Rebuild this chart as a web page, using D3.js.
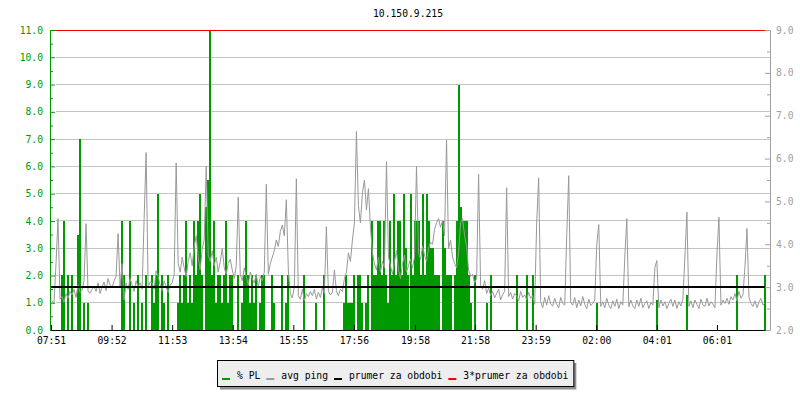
<!DOCTYPE html>
<html>
<head>
<meta charset="utf-8">
<script src="https://cdn.jsdelivr.net/npm/d3@7"></script>
<style>
  body { margin: 0; background: #fff; }
  text { font-family: "DejaVu Sans Mono", monospace; font-size: 9.7px; }
</style>
</head>
<body>
<svg id="chart" width="800" height="400"></svg>
<script>
const chartTitle = '10.150.9.215';
const timeLabels = ['07:51', '09:52', '11:53', '13:54', '15:55', '17:56', '19:58', '21:58', '23:59', '02:00', '04:01', '06:01'];
const spanMinutes = 1426;   // 07:51 -> ~07:37 next day
const stepMinutes = 4;
const plTicks = [0, 1, 2, 3, 4, 5, 6, 7, 8, 9, 10, 11];
const pingTicks = [2, 3, 4, 5, 6, 7, 8, 9];

// avg ping (ms), one value per 4 min slot
const avgPing = [
  2.68, 2.62, 3.55, 4.6, 2.72, 2.78, 2.65, 2.85, 2.74, 2.9,
  2.82, 2.95, 2.76, 3.05, 2.88, 2.92, 3.15, 4.48, 2.9, 2.86,
  2.95, 3.02, 2.9, 3.1, 2.85, 3.0, 3.12, 2.92, 3.2, 3.05,
  2.98, 3.15, 3.25, 4.25, 3.0, 3.55, 2.7, 3.1, 2.95, 3.2,
  3.05, 2.9, 3.15, 3.0, 3.1, 2.95, 4.6, 6.14, 3.0, 3.12,
  3.1, 2.95, 3.38, 3.25, 3.05, 2.92, 3.15, 3.0, 2.88, 3.05,
  3.1, 3.3, 5.9, 3.55, 3.35, 3.7, 3.45, 3.25, 3.6, 3.8,
  3.5, 3.95, 4.2, 3.7, 3.4, 3.9, 4.1, 5.82, 3.75, 3.6,
  3.85, 3.5, 3.7, 3.35, 3.6, 3.9, 3.45, 3.3, 3.55, 3.65,
  3.4, 3.2, 3.5, 5.1, 3.3, 3.15, 3.45, 3.25, 3.05, 3.35,
  3.2, 3.1, 3.3, 3.0, 3.25, 3.15, 3.35, 5.4, 3.3, 3.55,
  3.7, 3.85, 4.1, 3.95, 4.3, 4.45, 4.2, 5.04, 3.4, 2.85,
  2.75, 3.0, 5.53, 2.8, 2.72, 2.95, 2.68, 2.85, 2.78, 2.9,
  2.8, 2.95, 2.72, 2.88, 2.76, 2.98, 2.85, 4.41, 2.9, 2.82,
  2.88, 3.4, 2.92, 2.8, 2.95, 2.9, 3.2, 3.35, 3.8, 3.6,
  4.1, 4.5, 6.63, 4.9, 4.5, 5.2, 5.5, 4.8, 5.3, 4.4,
  3.8, 3.55, 3.4, 3.7, 3.35, 3.6, 3.45, 5.93, 3.7, 3.5,
  3.3, 3.6, 3.85, 3.4, 3.2, 3.55, 3.75, 3.35, 3.5, 3.65,
  3.45, 3.7, 5.82, 3.8, 3.65, 3.95, 3.75, 3.6, 3.9, 4.05,
  4.0, 4.35, 4.5, 4.6, 4.4, 4.55, 4.2, 6.43, 3.9, 4.1,
  3.7, 3.55, 3.45, 3.8, 4.5, 4.6, 4.2, 3.95, 3.4, 3.25,
  3.3, 3.1, 3.2, 5.63, 3.05, 2.95, 3.15, 2.85, 2.98, 2.8,
  2.9, 2.75, 2.85, 2.95, 2.7, 2.82, 2.9, 5.32, 2.78, 2.88,
  2.72, 2.85, 2.8, 2.68, 2.9, 2.76, 2.82, 2.7, 2.88, 2.74,
  2.8, 2.6, 4.5, 5.55, 2.66, 2.52, 2.76, 2.58, 2.8, 2.6,
  2.56, 2.74, 2.6, 2.52, 2.76, 2.62, 2.58, 4.2, 5.6, 2.64,
  2.58, 2.76, 2.52, 2.7, 2.56, 2.78, 2.6, 2.5, 2.72, 2.57,
  2.62, 2.7, 4.0, 4.46, 2.55, 2.66, 2.52, 2.74, 2.58, 2.5,
  2.68, 2.55, 2.72, 2.5, 2.66, 2.58, 3.7, 4.6, 2.54, 2.7,
  2.56, 2.5, 2.7, 2.55, 2.74, 2.52, 2.62, 2.68, 2.5, 2.64,
  2.58, 3.45, 3.62, 2.52, 2.7, 2.56, 2.66, 2.5, 2.62, 2.72,
  2.55, 2.7, 2.5, 2.66, 2.56, 2.72, 3.7, 4.75, 2.55, 2.68,
  2.52, 2.7, 2.6, 2.5, 2.72, 2.58, 2.55, 2.74, 2.56, 2.66,
  2.6, 2.52, 3.75, 4.63, 2.58, 2.7, 2.62, 2.74, 2.6, 2.78,
  2.7, 2.85, 2.68, 2.9, 2.74, 2.82, 3.48, 4.37, 2.76, 2.62,
  2.55, 2.68, 2.52, 2.66, 2.74, 2.58, 2.64
];

// packet loss (%), slot index + value, only non-zero slots
const lossSlot = [
  5, 6, 8, 10, 13, 14, 16, 18,
  35, 36, 39, 41, 43, 45, 47, 50, 51, 52, 53, 55, 56, 58,
  63, 64, 65, 66, 67, 68, 69, 70, 71, 72, 73, 74, 75, 77, 78, 79, 80, 81, 82, 83, 84, 85, 86, 87, 88, 89,
  90, 93, 95, 96, 97, 98, 99, 100, 101, 102, 104, 105, 106,
  110, 111, 115, 117, 118, 126, 132, 136,
  146, 147, 148, 149, 150, 151, 153, 154, 155, 157, 158, 160, 161, 162, 163, 164, 165, 166, 167, 168, 169,
  170, 171, 172, 173, 174, 175, 176, 177, 178, 179, 180, 181, 182, 183, 184, 185, 186, 187, 188, 189,
  190, 191, 192, 193, 195, 196, 197, 198, 199, 201, 202, 203, 204, 205, 206, 207, 208, 209, 211,
  217, 219, 232, 237, 240, 272, 302, 317, 342, 356
];
const lossPct = [
  2, 4, 2, 2, 3.5, 7, 1, 1,
  4, 2, 4, 1, 2, 1, 2, 2, 1, 2, 5, 2, 1, 2,
  1, 2, 1, 2, 4, 1, 2, 1, 4, 2, 4, 5, 2, 4.5, 5.5, 11, 2, 4, 1, 2, 2, 1, 2, 4, 1, 2,
  2, 2, 1, 2, 4, 2, 1, 2, 1, 2, 1, 2, 2,
  2, 1, 2, 1, 2, 2, 1, 2,
  1, 2, 1, 1, 1, 2, 2, 2, 1, 1, 2, 4, 2, 2, 4, 4, 2, 4, 2, 1, 4,
  2, 5, 2, 4, 4, 2, 5, 3, 2, 5, 2, 4, 4, 4, 2, 5, 2, 5, 4, 3,
  3, 2, 2, 2, 4, 3, 2, 2, 2, 2, 4, 9, 4.5, 4, 4, 4, 2, 1, 2,
  1, 2, 2, 2, 2, 1, 1.1, 1.3, 2, 2
];

const periodAvg = 3.0;   // prumer za obdobi (ms)

const legendLabels = ['% PL', 'avg ping', 'prumer za obdobi', '3*prumer za obdobi'];
const legendColors = ['#009900', '#999999', '#000000', '#ff0000'];

const svg = d3.select('#chart');
const plotLeft = 51, plotRight = 765, plotTop = 30, plotBottom = 330;

const startMin = +timeLabels[0].slice(0, 2) * 60 + +timeLabels[0].slice(3);
const toOffset = (s) => ((+s.slice(0, 2) * 60 + +s.slice(3)) - startMin + 1440) % 1440;

const x = d3.scaleLinear().domain([0, spanMinutes]).range([plotLeft, plotRight]);
const yPL = d3.scaleLinear().domain([0, 11]).range([plotBottom, plotTop]);
const yPing = d3.scaleLinear().domain([2, 9]).range([plotBottom, plotTop]);

// grid
svg.append('g').selectAll('line').data(plTicks.slice(1, -1)).enter().append('line')
  .attr('x1', 56).attr('x2', 770)
  .attr('y1', d => Math.floor(yPL(d)) + 0.5).attr('y2', d => Math.floor(yPL(d)) + 0.5)
  .attr('stroke', '#c4c4c4');

// % PL bars
const barW = x(stepMinutes) - x(0);
svg.append('g').selectAll('rect').data(lossSlot).enter().append('rect')
  .attr('x', (d) => Math.round(x(d * stepMinutes)))
  .attr('width', Math.round(barW))
  .attr('y', (d, i) => Math.round(yPL(lossPct[i])))
  .attr('height', (d, i) => plotBottom - Math.round(yPL(lossPct[i])))
  .attr('fill', '#009900');

// avg ping line, one point in the middle of each slot
const pingLine = d3.line()
  .x((d, i) => x(i * stepMinutes + stepMinutes / 2))
  .y(d => yPing(d));
svg.append('path').datum(avgPing).attr('d', pingLine)
  .attr('fill', 'none').attr('stroke', '#999999').attr('stroke-width', 1);

// period average and 3x average
svg.append('line').attr('x1', plotLeft).attr('x2', plotRight)
  .attr('y1', Math.round(yPing(periodAvg))).attr('y2', Math.round(yPing(periodAvg)))
  .attr('stroke', '#000').attr('stroke-width', 2);
const y3 = Math.min(plotBottom, Math.max(plotTop, yPing(periodAvg * 3)));
svg.append('line').attr('x1', plotLeft).attr('x2', plotRight)
  .attr('y1', Math.floor(y3) + 0.5).attr('y2', Math.floor(y3) + 0.5)
  .attr('stroke', '#ff0000').attr('stroke-width', 1);

// left axis (% PL)
const gL = svg.append('g').attr('transform', 'translate(50,0)');
gL.call(d3.axisLeft(yPL).tickValues(plTicks).tickSizeInner(-5).tickSizeOuter(0).tickPadding(7)
  .tickFormat(d3.format('.1f')));
gL.append('g').call(d3.axisLeft(yPL).tickValues(plTicks.slice(0, -1).map(d => d + 0.5))
  .tickSizeInner(-3).tickSizeOuter(0).tickFormat(''));
gL.selectAll('path, line').attr('stroke', '#009900');
gL.selectAll('text').attr('fill', '#009900');

// right axis (ping)
const gR = svg.append('g').attr('transform', 'translate(770,0)');
gR.call(d3.axisRight(yPing).tickValues(pingTicks).tickSizeInner(-5).tickSizeOuter(0).tickPadding(6)
  .tickFormat(d3.format('.1f')));
gR.append('g').call(d3.axisRight(yPing).tickValues(pingTicks.slice(0, -1).map(d => d + 0.5))
  .tickSizeInner(-3).tickSizeOuter(0).tickFormat(''));
gR.selectAll('path, line').attr('stroke', '#a0a0a0');
gR.selectAll('text').attr('fill', '#a0a0a0');

// bottom axis (time)
const gB = svg.append('g').attr('transform', 'translate(0,' + plotBottom + ')');
gB.call(d3.axisBottom(x).tickValues(timeLabels.map(toOffset)).tickSizeInner(-5).tickSizeOuter(0)
  .tickPadding(7).tickFormat((d, i) => timeLabels[i]));
gB.selectAll('path, line').attr('stroke', '#000');
gB.selectAll('text').attr('fill', '#000');

// the axis groups carry their own font attributes; let the css rule win
svg.selectAll('g').attr('font-family', null).attr('font-size', null);

// title
svg.append('text').attr('x', (plotLeft + plotRight) / 2).attr('y', 17)
  .attr('text-anchor', 'middle').text(chartTitle);

// legend
const lg = svg.append('g');
const shadow = lg.append('rect').attr('fill', '#909090');
const box = lg.append('rect').attr('fill', '#eeeeee').attr('stroke', '#000');
let cx = 222;
legendLabels.forEach((lab, i) => {
  lg.append('rect').attr('x', cx).attr('y', 378).attr('width', 8).attr('height', 2)
    .attr('fill', legendColors[i]);
  const t = lg.append('text').attr('x', cx + 15).attr('y', 379).text(lab);
  cx += 15 + t.node().getComputedTextLength() + 6;
});
const bx = 217.5, bw = cx - 6 + 5 - 217;
box.attr('x', bx).attr('y', 360.5).attr('width', bw).attr('height', 26);
shadow.attr('x', bx + 2.5).attr('y', 363).attr('width', bw).attr('height', 26.5);
</script>
</body>
</html>
